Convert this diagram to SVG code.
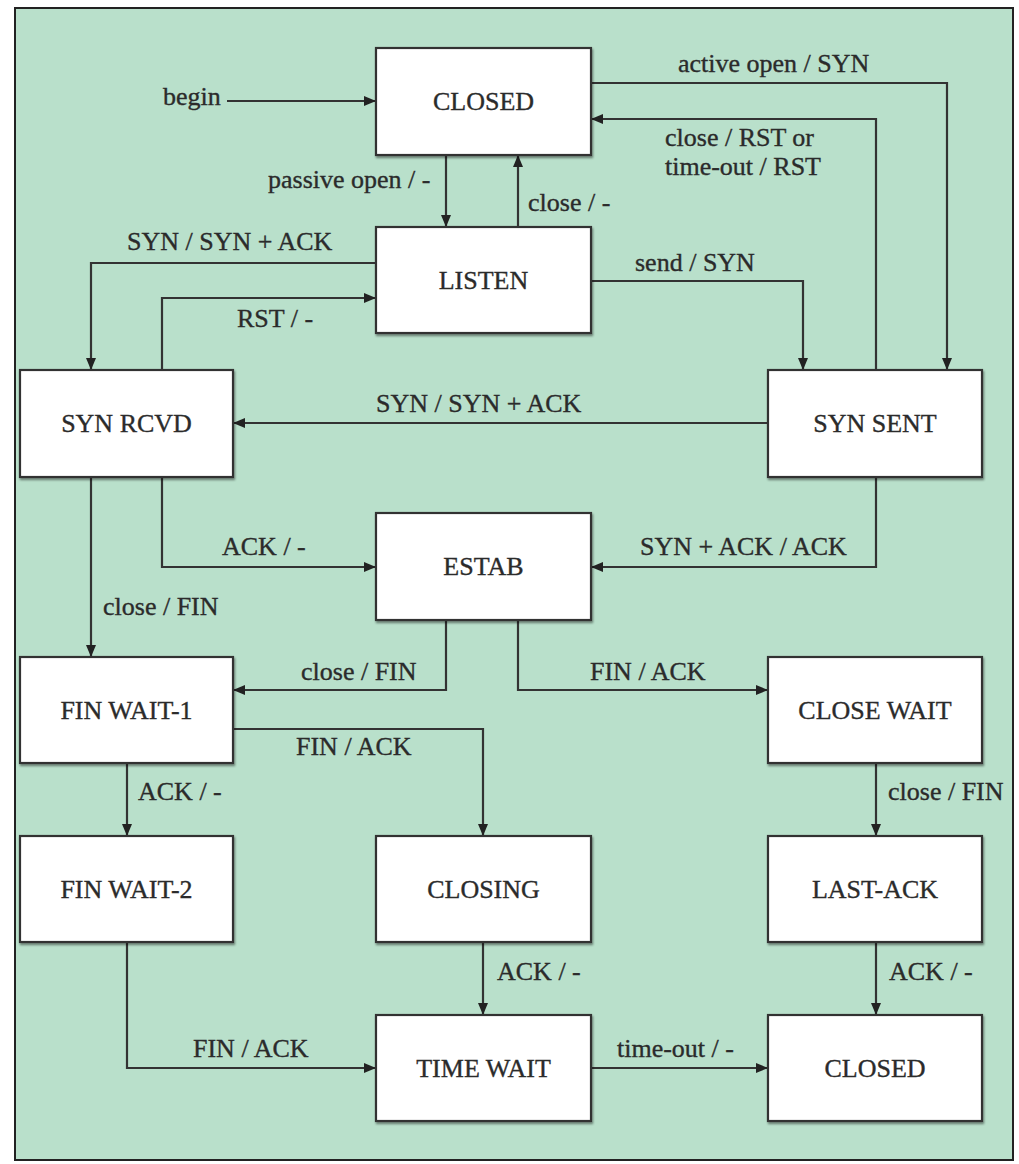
<svg xmlns="http://www.w3.org/2000/svg" width="1019" height="1164" viewBox="0 0 1019 1164">
<style>
.node rect{fill:#ffffff;stroke:#333;stroke-width:2.2;filter:url(#sh)}
.node text{font-family:"Liberation Serif","DejaVu Serif",serif;font-size:26px;fill:#2b2b2b;stroke:#2b2b2b;stroke-width:0.35;text-anchor:middle}
.lbl{font-family:"Liberation Serif","DejaVu Serif",serif;font-size:26px;fill:#2b2b2b;stroke:#2b2b2b;stroke-width:0.35}
#edges path{fill:none;stroke:#333;stroke-width:2.2;marker-end:url(#ah)}
</style>
<defs>
<marker id="ah" viewBox="0 0 12 10" refX="12" refY="5" markerWidth="12" markerHeight="10" markerUnits="userSpaceOnUse" orient="auto">
<path d="M0,0 L12,5 L0,10 z" fill="#222"/>
</marker>
<filter id="sh" x="-5%" y="-5%" width="110%" height="115%">
<feDropShadow dx="1" dy="2" stdDeviation="1" flood-color="#000" flood-opacity="0.45"/>
</filter>
</defs>
<rect x="0" y="0" width="1019" height="1164" fill="#ffffff"/>
<rect x="15" y="8" width="998" height="1152" fill="#b9e0cb" stroke="#222" stroke-width="2"/>

<g id="edges">
<path d="M227,101 H376"/>
<path d="M591,83 H947 V370"/>
<path d="M876,370 V119 H591"/>
<path d="M446,155 V227"/>
<path d="M518,227 V155"/>
<path d="M376,263 H91 V370"/>
<path d="M162,370 V298 H376"/>
<path d="M591,281 H803 V370"/>
<path d="M768,423 H233"/>
<path d="M162,477 V567 H376"/>
<path d="M91,477 V657"/>
<path d="M876,477 V567 H591"/>
<path d="M446,620 V690 H233"/>
<path d="M518,620 V690 H768"/>
<path d="M233,729 H483 V836"/>
<path d="M127,763 V836"/>
<path d="M876,763 V836"/>
<path d="M127,942 V1068 H376"/>
<path d="M483,942 V1015"/>
<path d="M876,942 V1015"/>
<path d="M591,1068 H768"/>
</g>

<g id="labels">
<text class="lbl" x="163" y="105">begin</text>
<text class="lbl" x="678" y="72">active open / SYN</text>
<text class="lbl" x="665" y="146">close / RST or</text>
<text class="lbl" x="665" y="175">time-out / RST</text>
<text class="lbl" x="268" y="188">passive open / -</text>
<text class="lbl" x="528" y="211">close / -</text>
<text class="lbl" x="127" y="250">SYN / SYN + ACK</text>
<text class="lbl" x="237" y="327">RST / -</text>
<text class="lbl" x="635" y="271">send / SYN</text>
<text class="lbl" x="376" y="412">SYN / SYN + ACK</text>
<text class="lbl" x="222" y="555">ACK / -</text>
<text class="lbl" x="103" y="615">close / FIN</text>
<text class="lbl" x="640" y="555">SYN + ACK / ACK</text>
<text class="lbl" x="301" y="680">close / FIN</text>
<text class="lbl" x="590" y="680">FIN / ACK</text>
<text class="lbl" x="296" y="755">FIN / ACK</text>
<text class="lbl" x="138" y="800">ACK / -</text>
<text class="lbl" x="888" y="800">close / FIN</text>
<text class="lbl" x="497" y="980">ACK / -</text>
<text class="lbl" x="889" y="980">ACK / -</text>
<text class="lbl" x="193" y="1057">FIN / ACK</text>
<text class="lbl" x="617" y="1057">time-out / -</text>
</g>

<g id="closed-top" class="node"><rect x="376" y="48" width="215" height="107"/><text x="483.5" y="110">CLOSED</text></g>
<g id="listen" class="node"><rect x="376" y="227" width="215" height="106"/><text x="483.5" y="289">LISTEN</text></g>
<g id="syn-rcvd" class="node"><rect x="20" y="370" width="213" height="107"/><text x="126.5" y="432">SYN RCVD</text></g>
<g id="syn-sent" class="node"><rect x="768" y="370" width="214" height="107"/><text x="875" y="432">SYN SENT</text></g>
<g id="estab" class="node"><rect x="376" y="513" width="215" height="107"/><text x="483.5" y="575">ESTAB</text></g>
<g id="fin-wait-1" class="node"><rect x="20" y="657" width="213" height="106"/><text x="126.5" y="719">FIN WAIT-1</text></g>
<g id="close-wait" class="node"><rect x="768" y="657" width="214" height="106"/><text x="875" y="719">CLOSE WAIT</text></g>
<g id="fin-wait-2" class="node"><rect x="20" y="836" width="213" height="106"/><text x="126.5" y="898">FIN WAIT-2</text></g>
<g id="closing" class="node"><rect x="376" y="836" width="215" height="106"/><text x="483.5" y="898">CLOSING</text></g>
<g id="last-ack" class="node"><rect x="768" y="836" width="214" height="106"/><text x="875" y="898">LAST-ACK</text></g>
<g id="time-wait" class="node"><rect x="376" y="1015" width="215" height="106"/><text x="483.5" y="1077">TIME WAIT</text></g>
<g id="closed-bottom" class="node"><rect x="768" y="1015" width="214" height="106"/><text x="875" y="1077">CLOSED</text></g>
</svg>
